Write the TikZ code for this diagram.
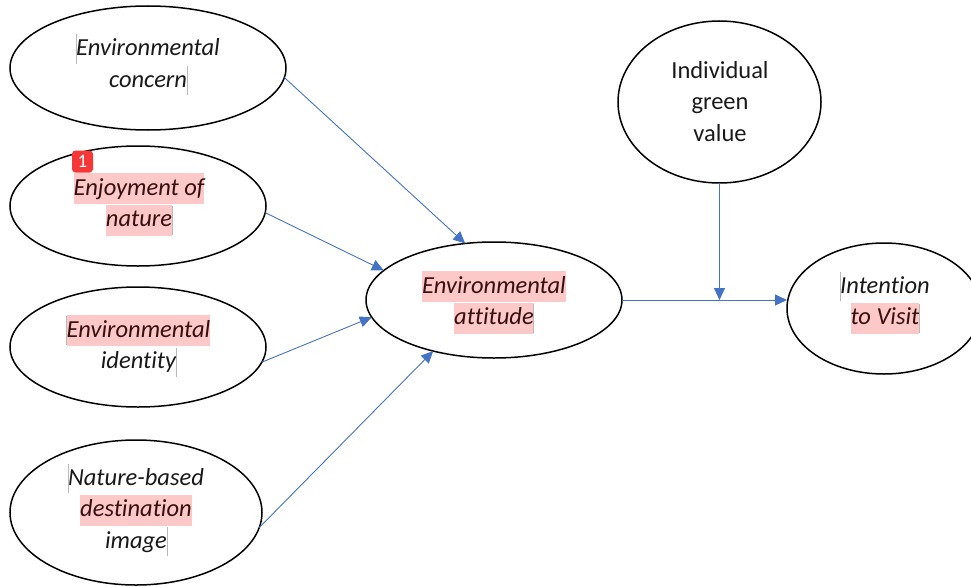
\documentclass[tikz,border=0pt]{standalone}
\usepackage{fontspec}
\setmainfont[Ligatures={NoCommon,NoRare}]{Carlito}
\usetikzlibrary{shapes.geometric,arrows.meta}
\definecolor{hlpink}{RGB}{252,200,200}
\definecolor{hltext}{RGB}{55,15,15}
\definecolor{cbgray}{RGB}{185,185,185}
\definecolor{arrowblue}{RGB}{68,114,196}
\definecolor{badgered}{RGB}{245,55,55}
\newcommand\hs{\rule[-9pt]{0pt}{31pt}}
\newcommand\hl[1]{{\setlength{\fboxsep}{0pt}\colorbox{hlpink}{\hs\textcolor{hltext}{#1}}}}
\newcommand\cbar{\makebox[0pt]{\textcolor{cbgray}{\rule[-8pt]{0.7pt}{29pt}}}}
\tikzset{
  oval/.style={ellipse, draw=black, line width=1.5pt, inner sep=0pt, outer sep=0pt},
  lbl/.style={align=center, inner sep=0pt, text=black!90, font=\fontsize{24.5}{31.5}\selectfont\itshape},
  conn/.style={draw=arrowblue, line width=0.9pt, -{Triangle[length=12pt,width=11pt]}},
}
\begin{document}
\begin{tikzpicture}[x=1pt,y=-1pt]
\useasboundingbox (0,0) rectangle (971,586);
\clip (0,0) rectangle (971,586);
% ellipses
\node[oval, minimum width=276pt, minimum height=124pt] (concern) at (148,68) {};
\node[oval, minimum width=256pt, minimum height=120pt] (enjoy) at (138,206) {};
\node[oval, minimum width=256pt, minimum height=120pt] (ident) at (138,347) {};
\node[oval, minimum width=252pt, minimum height=145pt] (nature) at (136,512.5) {};
\node[oval, minimum width=256pt, minimum height=116pt] (att) at (494,300) {};
\node[oval, minimum width=203pt, minimum height=162pt] (green) at (719.5,102) {};
\node[oval, minimum width=194pt, minimum height=131pt] (intent) at (884,308.5) {};
% labels
\node[lbl] (concernT) at (148,64.25) {\cbar\hs Environmental\\concern\cbar};
\node[lbl] (enjoyT) at (139,204.25) {\hl{Enjoyment of}\\\hl{nature}\cbar};
\node[lbl] (identT) at (138.5,346.25) {\cbar\hl{Environmental}\\\hs identity\cbar};
\node[lbl] (natureT) at (136,510) {\cbar\hs Nature-based\\\hl{destination}\\\hs image\cbar};
\node[lbl] (attT) at (494,302.25) {\cbar\hl{Environmental}\\\hl{attitude}\cbar};
\node[lbl, font=\fontsize{24.5}{31.5}\selectfont] (greenT) at (720,103) {\hs Individual\\\hs green\\\hs value};
\node[lbl] (intentT) at (885,302.25) {\cbar\hs Intention\\\hl{to Visit}\cbar};
% badge
\node[fill=badgered, rounded corners=3.5pt, minimum width=21pt, minimum height=22pt, inner sep=0pt, text=white, font=\fontsize{19}{19}\selectfont] (badge) at (82.5,161.5) {1};
% connectors
\draw[conn] (concern.356) -- (att.117);
\draw[conn] (enjoy.357) -- (att.165.6);
\draw[conn] (ident.353) -- (att.188.6);
\draw[conn] (nature.353) -- (att.220.4);
\coordinate (jn) at (green.south |- att.east);
\draw[conn] (att.east) -- (att.east -| intent.west);
\draw[conn] (green.south) -- (jn);
\end{tikzpicture}
\end{document}
